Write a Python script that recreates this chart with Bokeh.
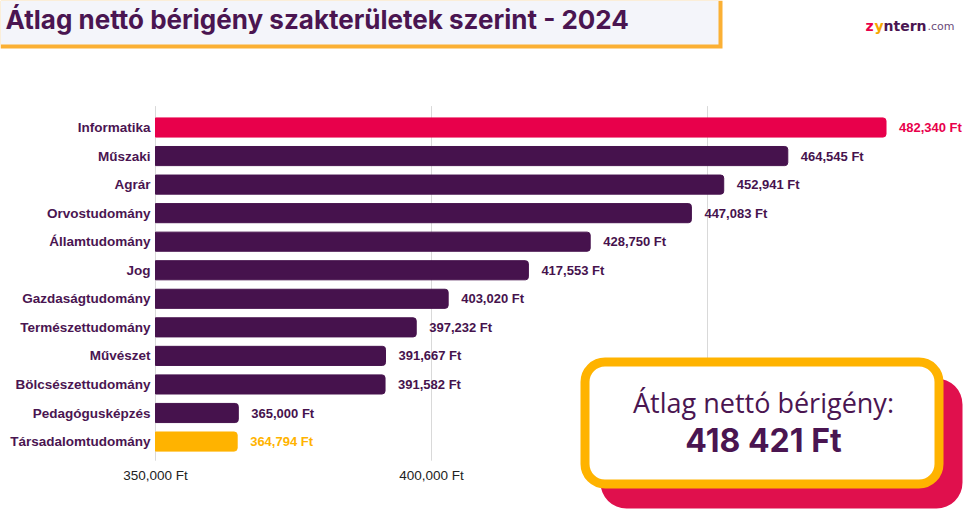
from bokeh.plotting import figure
from bokeh.models import (Range1d, ColumnDataSource, FixedTicker, LinearAxis,
                          BoxAnnotation, Label)
from bokeh.core.properties import value
from bokeh.embed import file_html
from bokeh.resources import INLINE

# ---- data ----
categories = ["Informatika", "Műszaki", "Agrár", "Orvostudomány", "Államtudomány",
              "Jog", "Gazdaságtudomány", "Természettudomány", "Művészet",
              "Bölcsészettudomány", "Pedagógusképzés", "Társadalomtudomány"]
salaries = [482340, 464545, 452941, 447083, 428750, 417553, 403020, 397232,
            391667, 391582, 365000, 364794]
x_ticks = [350000, 400000, 450000]
title_text = "Átlag nettó bérigény szakterületek szerint - 2024"
avg_caption = "Átlag nettó bérigény:"
avg_value = "418 421 Ft"

PURPLE = "#46124D"
PINK = "#E8004B"
YELLOW = "#FFB300"
TXT = "#4A1551"

n = len(categories)
pos = list(range(n))
colors = [PURPLE] * n
colors[0] = PINK
colors[-1] = YELLOW
labels = [f"{v:,} Ft" for v in salaries]
src = ColumnDataSource(dict(pos=pos, val=salaries, color=colors, label=labels))

W, H = 964, 509
PX_PER_UNIT = 5.52 / 1000          # horizontal scale
ROW = 28.55                         # vertical spacing in px
x0 = x_ticks[0] - 155 / PX_PER_UNIT
y_top = -127 / ROW
y_bot = (H - 127) / ROW

p = figure(width=W, height=H, output_backend="svg", toolbar_location=None,
           x_range=Range1d(x0, x0 + W / PX_PER_UNIT),
           y_range=Range1d(y_bot, y_top),
           x_axis_type=None, y_axis_type=None,
           min_border=0, min_border_left=0, min_border_right=0,
           min_border_top=0, min_border_bottom=0)
p.outline_line_color = None
p.background_fill_color = "white"
p.border_fill_color = "white"
p.xgrid.visible = False
p.ygrid.visible = False

# grid lines (limited to the bar area)
gy0 = -0.75
gy1 = n - 1 + 0.67
p.segment(x0=x_ticks, x1=x_ticks, y0=[gy0] * len(x_ticks), y1=[gy1] * len(x_ticks),
          line_color="#D9D9D9", line_width=1, level="underlay")

p.hbar(y="pos", left=x_ticks[0], right="val", height=0.67, color="color", source=src,
       border_radius=(0, 3, 3, 0))
p.text(x="val", y="pos", text="label", text_color="color", x_offset=13,
       text_baseline="middle", text_align="left", text_font=value("Liberation Sans"),
       text_font_style="bold", text_font_size="13px", source=src)

# axes drawn at fixed locations
xax = LinearAxis(fixed_location=gy1, ticker=FixedTicker(ticks=x_ticks))
xax.major_label_overrides = {t: f"{t:,} Ft" for t in x_ticks}
xax.axis_line_color = None
xax.major_tick_line_color = None
xax.minor_tick_line_color = None
xax.major_tick_out = 0
xax.major_tick_in = 0
xax.major_label_text_font = "Liberation Sans"
xax.major_label_text_font_size = "13.5px"
xax.major_label_text_color = "#222222"
xax.major_label_standoff = 7
p.add_layout(xax, "below")

yax = LinearAxis(fixed_location=x_ticks[0], ticker=FixedTicker(ticks=pos))
yax.major_label_overrides = {i: c for i, c in zip(pos, categories)}
yax.axis_line_color = None
yax.major_tick_line_color = None
yax.minor_tick_line_color = None
yax.major_tick_out = 0
yax.major_tick_in = 0
yax.major_label_text_font = "Liberation Sans"
yax.major_label_text_font_style = "bold"
yax.major_label_text_font_size = "13.5px"
yax.major_label_text_color = TXT
yax.major_label_standoff = 5
p.add_layout(yax, "left")


def cbox(l, t, r, b, **kw):
    return BoxAnnotation(left=l, right=r, top=t, bottom=b, left_units="canvas",
                         right_units="canvas", top_units="canvas", bottom_units="canvas",
                         fill_alpha=1, line_alpha=1, **kw)


def clabel(x, y, text, **kw):
    return Label(x=x, y=y, x_units="canvas", y_units="canvas", text=text,
                 text_baseline="middle", **kw)

# header box
p.add_layout(cbox(0, 0, 722, 48, fill_color="#FBB034", line_color=None))
p.add_layout(cbox(0, 0, 718, 44, fill_color="#F4F5FA", line_color=None))
p.add_layout(clabel(5, 19, title_text, text_font="Inter", text_font_style="bold",
                    text_font_size="26px", text_color=TXT, text_align="left"))

# logo
p.add_layout(clabel(865, 25, "z", text_font="DejaVu Sans", text_font_style="bold",
                    text_font_size="14px", text_color=PINK))
p.add_layout(clabel(874, 25, "y", text_font="DejaVu Sans", text_font_style="bold",
                    text_font_size="14px", text_color="#F7A600"))
p.add_layout(clabel(883, 25, "ntern", text_font="DejaVu Sans", text_font_style="bold",
                    text_font_size="14px", text_color=TXT))
p.add_layout(clabel(927, 26, ".com", text_font="DejaVu Sans", text_font_size="11px",
                    text_color="#6B4B7A"))

# callout
p.add_layout(cbox(600, 378, 962, 508, fill_color="#E0104D", line_color=None,
                  border_radius=26))
p.add_layout(cbox(584.5, 361.5, 938.5, 483.5, fill_color="white",
                  line_color=YELLOW, line_width=9, border_radius=20))
p.add_layout(clabel(763, 402, avg_caption, text_font="Open Sans", text_font_size="27px",
                    text_color=TXT, text_align="center"))
p.add_layout(clabel(763, 440, avg_value, text_font="Inter", text_font_style="bold",
                    text_font_size="32px", text_color=TXT, text_align="center"))

open("out.html", "w").write(file_html(p, INLINE))
